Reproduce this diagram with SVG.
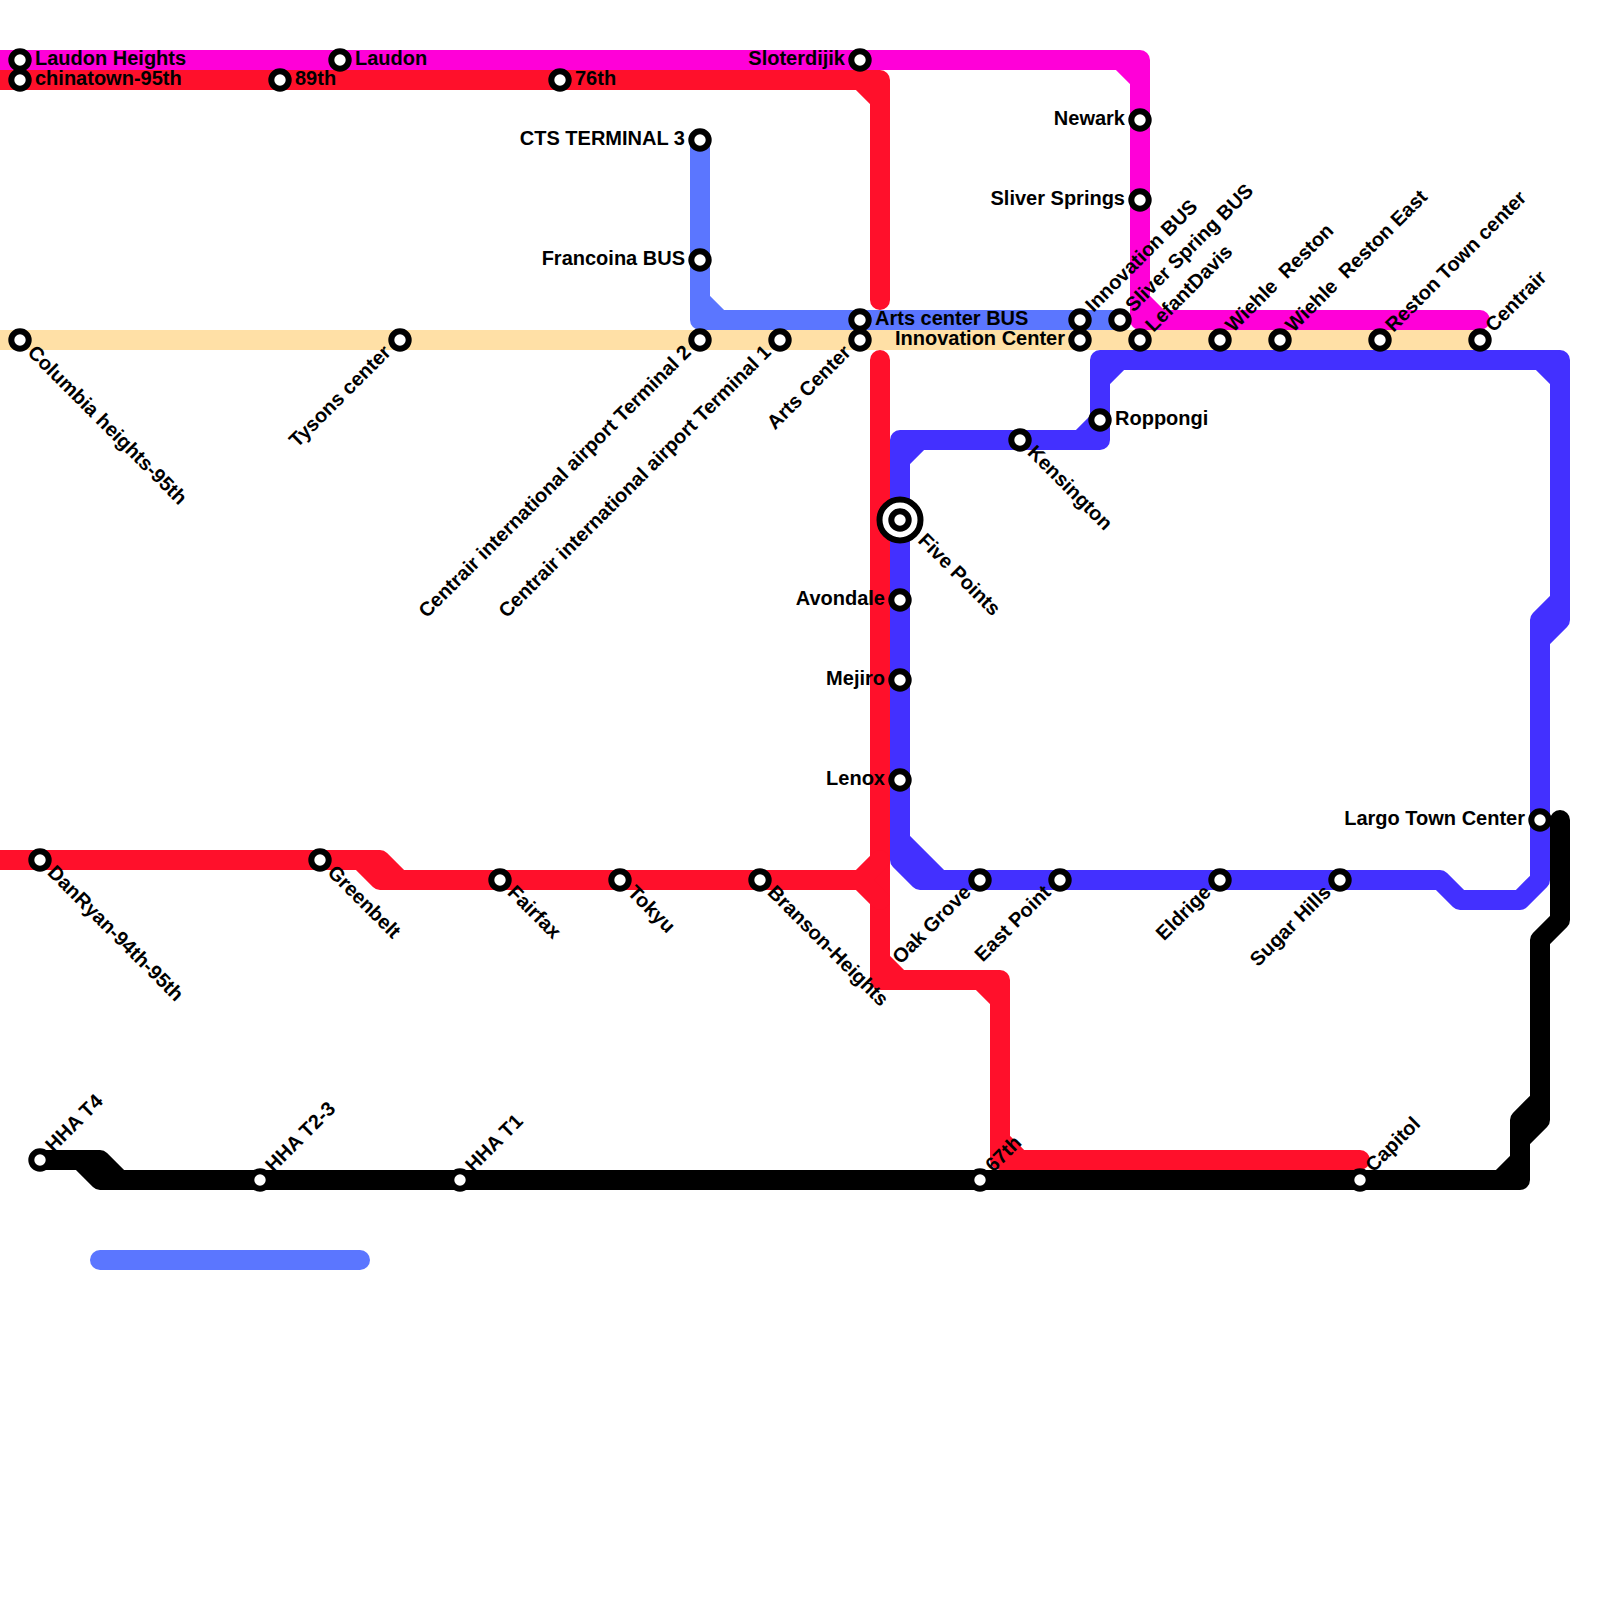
<svg xmlns="http://www.w3.org/2000/svg" width="1600" height="1600" viewBox="0 0 1600 1600">
<style>
.l{fill:none;stroke-width:20;stroke-linecap:round;stroke-linejoin:round}
.m{stroke:#FF00D8}.r{stroke:#FF102B}.b{stroke:#4330FF}.c{stroke:#5B76FF}.t{stroke:#FFE0A6}.k{stroke:#000}
.s{fill:#fff;stroke:#000;stroke-width:6}
text{font-family:"Liberation Sans",Arial,sans-serif;font-size:20px;font-weight:700;fill:#000;white-space:pre}
.e{text-anchor:end}
</style>
<rect width="1600" height="1600" fill="#fff"/>
<g id="connectors">
<path class="l c" d="M700 140V320H1120M700 300L720 320"/>
<path class="l c" d="M100 1260H360"/>
<path class="l t" d="M-10 340H1480"/>
<path class="l m" d="M-10 60H1140V320H1480M1120 60L1140 80M1140 300L1160 320"/>
<path class="l r" d="M-10 80H880V300M860 80L880 100"/>
<path class="l b" d="M900 860V440H1100V360H1560V620L1540 640V880L1520 900H1460L1440 880H920L900 860M900 840L940 880M900 460L920 440M1080 440L1100 420M1100 380L1120 360M1540 360L1560 380M1540 640V620L1560 600"/>
<path class="l r" d="M880 360V980H1000V1160H1360M880 960L900 980M980 980L1000 1000M1000 1140L1020 1160"/>
<path class="l r" d="M-10 860H380L400 880H860L880 860M360 860L380 880H400M860 880L880 900"/>
<path class="l k" d="M40 1160H100L120 1180H1520V1140L1540 1120V940L1560 920V820M80 1160L100 1180H120M1500 1180L1520 1160M1520 1140V1120L1540 1100"/>
</g>
<g id="n1"><circle class="s" cx="20" cy="60" r="8.7"/><text x="35" y="65">Laudon Heights</text></g>
<g id="n2"><circle class="s" cx="20" cy="80" r="8.7"/><text x="35" y="85">chinatown-95th</text></g>
<g id="n3"><circle class="s" cx="280" cy="80" r="8.7"/><text x="295" y="85">89th</text></g>
<g id="n4"><circle class="s" cx="340" cy="60" r="8.7"/><text x="355" y="65">Laudon</text></g>
<g id="n5"><circle class="s" cx="560" cy="80" r="8.7"/><text x="575" y="85">76th</text></g>
<g id="n6"><circle class="s" cx="860" cy="60" r="8.7"/><text class="e" x="845" y="65">Sloterdijik</text></g>
<g id="n7"><circle class="s" cx="700" cy="140" r="8.7"/><text class="e" x="685" y="145">CTS TERMINAL 3</text></g>
<g id="n8"><circle class="s" cx="700" cy="260" r="8.7"/><text class="e" x="685" y="265">Francoina BUS</text></g>
<g id="n9"><circle class="s" cx="700" cy="340" r="8.7"/><text class="e" transform="translate(692 353.5) rotate(-45)">Centrair international airport Terminal 2</text></g>
<g id="n10"><circle class="s" cx="780" cy="340" r="8.7"/><text class="e" transform="translate(772 353.5) rotate(-45)">Centrair international airport Terminal 1</text></g>
<g id="n11"><circle class="s" cx="860" cy="320" r="8.7"/><text x="875" y="325">Arts center BUS</text></g>
<g id="n12"><circle class="s" cx="860" cy="340" r="8.7"/><text class="e" transform="translate(852 353.5) rotate(-45)">Arts Center</text></g>
<g id="n13"><circle class="s" cx="1140" cy="120" r="8.7"/><text class="e" x="1125" y="125">Newark</text></g>
<g id="n14"><circle class="s" cx="1140" cy="200" r="8.7"/><text class="e" x="1125" y="205">Sliver Springs</text></g>
<g id="n15"><circle class="s" cx="1080" cy="320" r="8.7"/><text transform="translate(1093.5 313) rotate(-45)">Innovation BUS</text></g>
<g id="n16"><circle class="s" cx="1080" cy="340" r="8.7"/><text class="e" x="1065" y="345">Innovation Center</text></g>
<g id="n17"><circle class="s" cx="1120" cy="320" r="8.7"/><text transform="translate(1133.5 313) rotate(-45)">Sliver Spring BUS</text></g>
<g id="n18"><circle class="s" cx="1140" cy="340" r="8.7"/><text transform="translate(1153.5 333) rotate(-45)">LefantDavis</text></g>
<g id="n19"><circle class="s" cx="1220" cy="340" r="8.7"/><text transform="translate(1233.5 333) rotate(-45)">Wiehle  Reston</text></g>
<g id="n20"><circle class="s" cx="1280" cy="340" r="8.7"/><text transform="translate(1293.5 333) rotate(-45)">Wiehle  Reston East</text></g>
<g id="n21"><circle class="s" cx="1380" cy="340" r="8.7"/><text transform="translate(1393.5 333) rotate(-45)">Reston Town center</text></g>
<g id="n22"><circle class="s" cx="1480" cy="340" r="8.7"/><text transform="translate(1493.5 333) rotate(-45)">Centrair</text></g>
<g id="n23"><circle class="s" cx="20" cy="340" r="8.7"/><text transform="translate(26.5 353.5) rotate(45)">Columbia heights-95th</text></g>
<g id="n24"><circle class="s" cx="400" cy="340" r="8.7"/><text class="e" transform="translate(392 353.5) rotate(-45)">Tysons center</text></g>
<g id="n25"><circle class="s" cx="1100" cy="420" r="8.7"/><text x="1115" y="425">Roppongi</text></g>
<g id="n26"><circle class="s" cx="1020" cy="440" r="8.7"/><text transform="translate(1026.5 453.5) rotate(45)">Kensington</text></g>
<g id="n27"><circle class="s" cx="900" cy="520" r="20.5"/><circle class="s" cx="900" cy="520" r="8.7"/><text transform="translate(917 541.5) rotate(45)">Five Points</text></g>
<g id="n28"><circle class="s" cx="900" cy="600" r="8.7"/><text class="e" x="885" y="605">Avondale</text></g>
<g id="n29"><circle class="s" cx="900" cy="680" r="8.7"/><text class="e" x="885" y="685">Mejiro</text></g>
<g id="n30"><circle class="s" cx="900" cy="780" r="8.7"/><text class="e" x="885" y="785">Lenox</text></g>
<g id="n31"><circle class="s" cx="980" cy="880" r="8.7"/><text class="e" transform="translate(972 893.5) rotate(-45)">Oak Grove</text></g>
<g id="n32"><circle class="s" cx="1060" cy="880" r="8.7"/><text class="e" transform="translate(1052 893.5) rotate(-45)">East Point</text></g>
<g id="n33"><circle class="s" cx="1220" cy="880" r="8.7"/><text class="e" transform="translate(1212 893.5) rotate(-45)">Eldrige</text></g>
<g id="n34"><circle class="s" cx="1340" cy="880" r="8.7"/><text class="e" transform="translate(1332 893.5) rotate(-45)">Sugar Hills</text></g>
<g id="n35"><circle class="s" cx="1540" cy="820" r="8.7"/><text class="e" x="1525" y="825">Largo Town Center</text></g>
<g id="n36"><circle class="s" cx="1360" cy="1180" r="8.7"/><text transform="translate(1373.5 1173) rotate(-45)">Capitol</text></g>
<g id="n37"><circle class="s" cx="980" cy="1180" r="8.7"/><text transform="translate(993.5 1173) rotate(-45)">67th</text></g>
<g id="n38"><circle class="s" cx="460" cy="1180" r="8.7"/><text transform="translate(473.5 1173) rotate(-45)">HHA T1</text></g>
<g id="n39"><circle class="s" cx="260" cy="1180" r="8.7"/><text transform="translate(273.5 1173) rotate(-45)">HHA T2-3</text></g>
<g id="n40"><circle class="s" cx="40" cy="1160" r="8.7"/><text transform="translate(53.5 1153) rotate(-45)">HHA T4</text></g>
<g id="n41"><circle class="s" cx="40" cy="860" r="8.7"/><text transform="translate(46.5 873.5) rotate(45)">DanRyan-94th-95th</text></g>
<g id="n42"><circle class="s" cx="320" cy="860" r="8.7"/><text transform="translate(326.5 873.5) rotate(45)">Greenbelt</text></g>
<g id="n43"><circle class="s" cx="500" cy="880" r="8.7"/><text transform="translate(506.5 893.5) rotate(45)">Fairfax</text></g>
<g id="n44"><circle class="s" cx="620" cy="880" r="8.7"/><text transform="translate(626.5 893.5) rotate(45)">Tokyu</text></g>
<g id="n45"><circle class="s" cx="760" cy="880" r="8.7"/><text transform="translate(766.5 893.5) rotate(45)">Branson-Heights</text></g>
</svg>
